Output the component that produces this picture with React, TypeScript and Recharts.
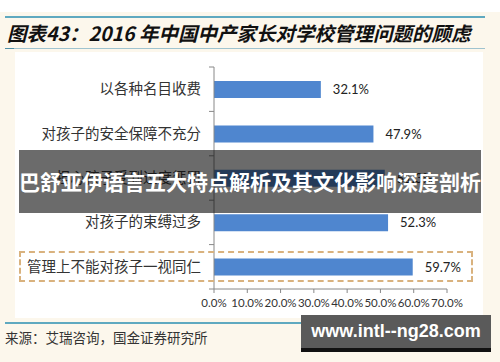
import React from 'react';
import {BarChart, Bar, XAxis, YAxis, LabelList} from 'recharts';

const categories = [
    '以各种名目收费',
    '对孩子的安全保障不充分',
    '担心孩子受到过度惩罚',
    '对孩子的束缚过多',
    '管理上不能对孩子一视同仁',
];
const shares = [32.1, 47.9, 51.3, 52.3, 59.7];
const xTicks = [0, 10, 20, 30, 40, 50, 60, 70];

const title = '图表43：2016 年中国中产家长对学校管理问题的顾虑';
const source = '来源：艾瑞咨询，国金证券研究所';
const banner = '巴舒亚伊语言五大特点解析及其文化影响深度剖析';
const watermark = 'www.intl--ng28.com';

const data = categories.map((name, i) => ({name, value: shares[i]}));

const cjk = '"Noto Sans CJK SC", sans-serif';
const band = 222 / categories.length;

function CatTick(props: any) {
    const {y, payload, index} = props;
    return (
        <g>
            <line x1={209} x2={214} y1={y - band / 2} y2={y - band / 2} stroke="#888"/>
            {index === categories.length - 1 &&
                <line x1={209} x2={214} y1={y + band / 2} y2={y + band / 2} stroke="#888"/>}
            <text x={201} y={y} dy={5} textAnchor="end" fontSize={14.5}
                  fontFamily={cjk} fill="#333">{payload.value}</text>
        </g>
    );
}

export default function App() {
    return (
        <div style={{position: 'absolute', left: 0, top: 0, width: 500, height: 362,
            background: '#fcf7ec', overflow: 'hidden'}}>
            <div style={{position: 'absolute', left: 0, top: 0, width: 500, height: 12, background: '#fff'}}/>
            <div style={{position: 'absolute', left: 15, top: 52, width: 468, height: 266, background: '#fff'}}/>
            <div style={{position: 'absolute', left: 5, top: 16, width: 480, height: 2, background: '#5fa9c0'}}/>
            <div style={{position: 'absolute', left: 7, top: 20, width: 480, whiteSpace: 'nowrap',
                fontFamily: cjk, fontWeight: 700, fontStyle: 'italic', fontSize: 19.5, color: '#111',
                lineHeight: '26px'}}>{title}</div>
            <div style={{position: 'absolute', left: 5, top: 48, width: 480, height: 1, background: '#9fc3cf'}}/>
            <div style={{position: 'absolute', left: 5, top: 48, width: 9, height: 1, background: '#4f8fa6'}}/>

            <div style={{position: 'absolute', left: 0, top: 0}}>
                <BarChart width={500} height={362} data={data} layout="vertical"
                          margin={{top: 67, right: 53, bottom: 43, left: 0}}>
                    <XAxis type="number" domain={[0, 70]} ticks={xTicks} interval={0}
                           tickFormatter={(v: number) => `${v.toFixed(1)}%`}
                           stroke="#888" tickSize={4} tickMargin={6} height={30}
                           tick={{fontSize: 11.5, fontFamily: 'Lato', fill: '#333'}}/>
                    <YAxis type="category" dataKey="name" width={214} stroke="#888"
                           tickLine={false} tick={<CatTick/>} interval={0}/>
                    <Bar dataKey="value" fill="#4f86cf" barSize={17} isAnimationActive={false}>
                        <LabelList dataKey="value" position="right" offset={12}
                                   formatter={(v: any) => `${Number(v).toFixed(1)}%`}
                                   style={{fontSize: 13, fontFamily: 'Lato', fill: '#222'}}/>
                    </Bar>
                </BarChart>
            </div>

            <div style={{position: 'absolute', left: 19, top: 251, width: 450, height: 27,
                border: '2px dashed #d9b27e'}}/>

            <div style={{position: 'absolute', left: 19, top: 150, width: 462, height: 63,
                background: 'rgba(8,8,8,0.6)', color: '#fff', fontFamily: cjk, fontWeight: 700,
                fontSize: 21, lineHeight: '63px', textAlign: 'center', whiteSpace: 'nowrap'}}>{banner}</div>

            <div style={{position: 'absolute', left: 5, top: 322, width: 480, height: 2, background: '#5fa9c0'}}/>
            <div style={{position: 'absolute', left: 5, top: 328, whiteSpace: 'nowrap', fontFamily: cjk,
                fontSize: 13.5, color: '#333', lineHeight: '18px'}}>{source}</div>

            <div style={{position: 'absolute', left: 301, top: 315, width: 190, height: 33,
                background: '#5a5a5a', color: '#fff', fontFamily: '"Liberation Sans", sans-serif',
                fontWeight: 700, fontSize: 18, lineHeight: '33px', textAlign: 'center'}}>{watermark}</div>
            <div style={{position: 'absolute', left: 301, top: 348, width: 190, height: 4, background: '#111'}}/>
        </div>
    );
}
